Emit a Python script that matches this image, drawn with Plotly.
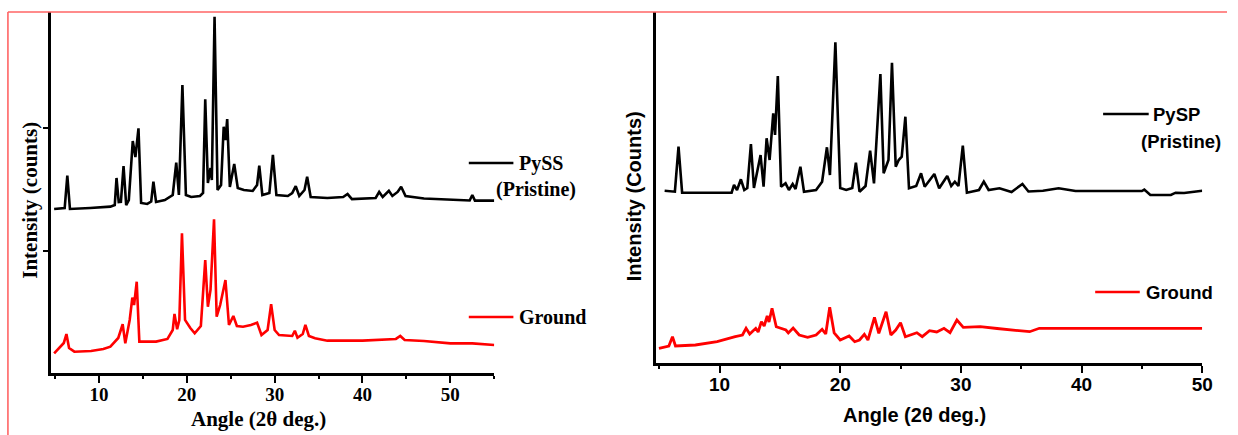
import plotly.graph_objects as go

W, H = 1238, 435

# ---------------- data ----------------
pyss_angle = [4.9, 6.1, 6.4, 6.7, 9.0, 11.3, 11.8, 12.0, 12.25, 12.5, 12.8, 13.1, 13.4, 13.85, 14.15, 14.5,
              14.8, 15.5, 15.95, 16.2, 16.5, 17.5, 18.4, 18.8, 19.1, 19.5, 19.9, 20.5, 21.5, 21.85, 22.1,
              22.4, 22.7, 22.85, 23.16, 23.5, 23.9, 24.2, 24.4, 24.6, 24.9, 25.4, 25.8, 26.5, 27.5, 28.0,
              28.25, 28.6, 29.4, 29.8, 30.2, 31.5, 32.0, 32.4, 32.8, 33.4, 33.7, 34.1, 36.0, 37.8, 38.3,
              38.8, 41.5, 41.9, 42.3, 43.0, 43.4, 44.0, 44.4, 44.9, 47.0, 50.8, 52.2, 52.5, 52.8, 55.0]
pyss_pristine = [1339, 1347, 1611, 1339, 1347, 1358, 1371, 1592, 1396, 1398, 1690, 1371, 1412, 1894, 1763, 1997,
                 1388, 1380, 1400, 1562, 1396, 1412, 1453, 1717, 1453, 2351, 1453, 1437, 1445, 1469, 2234,
                 1551, 1673, 1575, 2908, 1494, 1535, 2010, 1902, 2073, 1518, 1706, 1510, 1494, 1486, 1535,
                 1692, 1453, 1469, 1780, 1453, 1445, 1469, 1526, 1445, 1494, 1602, 1437, 1429, 1437, 1461,
                 1420, 1429, 1478, 1437, 1488, 1445, 1478, 1521, 1445, 1424, 1412, 1408, 1453, 1407, 1407]

pyss_g_angle = [4.9, 5.5, 6.0, 6.3, 6.6, 7.2, 9.1, 10.5, 11.3, 12.2, 12.7, 13.0, 13.5, 13.8, 14.0, 14.3, 14.6,
                16.5, 17.8, 18.4, 18.6, 18.9, 19.15, 19.45, 19.8, 20.4, 20.9, 21.6, 22.1, 22.4, 22.7, 23.1,
                23.4, 23.8, 24.4, 24.8, 25.3, 25.7, 26.4, 27.3, 28.0, 28.5, 29.2, 29.6, 30.0, 30.5, 32.0,
                32.3, 32.6, 33.2, 33.5, 33.9, 34.6, 36.0, 40.0, 43.8, 44.3, 44.8, 47.0, 50.0, 52.5, 55.0]
pyss_ground = [161, 204, 245, 318, 204, 174, 180, 196, 215, 286, 398, 242, 433, 615, 555, 745, 256,
               256, 278, 351, 482, 357, 433, 1140, 433, 367, 324, 384, 922, 541, 678, 1255,
               460, 555, 759, 392, 465, 384, 378, 392, 411, 310, 351, 561, 351, 310, 302,
               345, 288, 318, 392, 302, 283, 264, 264, 278, 302, 269, 261, 242, 242, 229]

pysp_angle = [5.45, 6.3, 6.6, 6.9, 11.0, 11.2, 11.45, 11.77, 12.05, 12.3, 12.6, 12.85, 13.4, 13.65, 13.9,
              14.15, 14.45, 14.6, 14.83, 15.1, 15.47, 15.75, 16.06, 16.3, 16.7, 17.0, 18.0, 18.5, 18.9,
              19.15, 19.6, 20.0, 20.5, 21.0, 21.3, 21.6, 22.1, 22.48, 22.8, 23.33, 23.6, 24.0, 24.29,
              24.6, 24.85, 25.1, 25.4, 25.7, 26.3, 26.7, 27.0, 27.8, 28.2, 28.87, 29.2, 29.5, 29.8,
              30.16, 30.5, 31.5, 31.9, 32.3, 33.2, 34.2, 35.1, 35.6, 36.8, 38.1, 39.5, 42.0, 45.0,
              45.2, 45.7, 47.4, 47.8, 48.5, 50.0]
pysp_pristine = [1726, 1716, 2166, 1706, 1706, 1783, 1733, 1840, 1733, 1753, 2193, 1753, 2083, 1766, 2250,
                 2033, 2500, 2283, 2873, 1766, 1800, 1733, 1793, 1743, 1966, 1716, 1733, 1816, 2160,
                 1883, 3210, 1753, 1733, 1753, 2006, 1716, 1773, 2126, 1800, 2893, 1900, 2033, 3006,
                 1966, 2033, 2066, 2466, 1750, 1773, 1900, 1766, 1893, 1750, 1873, 1773, 1816, 1773,
                 2176, 1706, 1733, 1816, 1733, 1750, 1713, 1793, 1718, 1726, 1750, 1723, 1723, 1723,
                 1738, 1683, 1683, 1706, 1703, 1726]

pysp_g_angle = [4.98, 5.8, 6.1, 6.35, 8.0, 9.8, 11.3, 11.9, 12.2, 12.5, 13.0, 13.2, 13.47, 13.7, 13.95, 14.1,
                14.35, 14.7, 15.5, 15.7, 16.1, 16.6, 17.3, 18.0, 18.5, 18.8, 19.13, 19.5, 20.0, 20.74,
                21.2, 21.6, 22.0, 22.3, 22.84, 23.2, 23.8, 24.2, 24.6, 25.0, 25.4, 26.35, 26.8, 27.4,
                28.0, 28.6, 29.1, 29.67, 30.2, 31.6, 33.0, 35.7, 36.5, 50.0]
pysp_ground = [150, 173, 266, 173, 183, 216, 266, 283, 350, 293, 350, 313, 416, 373, 473, 413,
               550, 366, 333, 303, 353, 283, 260, 283, 340, 293, 560, 303, 233, 273,
               216, 233, 290, 233, 460, 300, 516, 283, 333, 406, 266, 306, 266, 326,
               313, 350, 306, 433, 360, 366, 348, 316, 350, 350]

x_ticks_left = [10, 20, 30, 40, 50]
x_ticks_right = [10, 20, 30, 40, 50]

# ---------------- helpers (pixel -> paper) ----------------
def px(x):
    return x / W

def py(y):
    return 1 - y / H

SERIF = "Liberation Serif"
SANS = "Liberation Sans"

fig = go.Figure()
fig.add_trace(go.Scatter(x=pyss_angle, y=pyss_pristine, mode="lines",
                         line=dict(color="black", width=2.6), xaxis="x", yaxis="y", showlegend=False))
fig.add_trace(go.Scatter(x=pyss_g_angle, y=pyss_ground, mode="lines",
                         line=dict(color="#ff0000", width=2.6), xaxis="x", yaxis="y", showlegend=False))
fig.add_trace(go.Scatter(x=pysp_angle, y=pysp_pristine, mode="lines",
                         line=dict(color="black", width=2.6), xaxis="x2", yaxis="y2", showlegend=False))
fig.add_trace(go.Scatter(x=pysp_g_angle, y=pysp_ground, mode="lines",
                         line=dict(color="#ff0000", width=2.8), xaxis="x2", yaxis="y2", showlegend=False))

def xax(domain, rng, ticks, family, anchor):
    return dict(domain=domain, range=rng, anchor=anchor, showline=True, linecolor="black", linewidth=2.5,
                ticks="outside", ticklen=7, tickwidth=2, tickcolor="black", tickvals=ticks,
                ticklabelstandoff=-5,
                minor=dict(ticks="outside", ticklen=3, tickwidth=2, tickcolor="black", dtick=5, tick0=0),
                tickfont=dict(family=family, size=19, color="black", weight="bold"),
                showgrid=False, zeroline=False, fixedrange=True)

fig.update_layout(
    width=W, height=H, margin=dict(l=0, r=0, t=0, b=0, pad=0),
    paper_bgcolor="white", plot_bgcolor="white",
    xaxis=xax([px(51.7), px(498.7)], [4.57, 55], x_ticks_left, SERIF, "y"),
    yaxis=dict(domain=[py(373), py(12)], range=[0, 2947], anchor="x", showline=True, linecolor="black",
               linewidth=2.5, ticks="outside", ticklen=5, tickwidth=2, tickcolor="black",
               tickvals=[1000, 2000], showticklabels=False, showgrid=False, zeroline=False),
    xaxis2=xax([px(661.7), px(1213)], [4.72, 50], x_ticks_right, SANS, "y2"),
    yaxis2=dict(domain=[py(363.3), py(12)], range=[0, 3513], anchor="x2", showline=True, linecolor="black",
                linewidth=2.5, ticks="", showticklabels=False, showgrid=False, zeroline=False),
)

ann = []
def text(x, y, s, family, size, xanchor="center", angle=0):
    ann.append(dict(x=px(x), y=py(y), xref="paper", yref="paper", text=s, showarrow=False,
                    xanchor=xanchor, yanchor="middle", textangle=angle,
                    font=dict(family=family, size=size, color="black", weight="bold")))

# axis titles
text(260.5, 419, "Angle (2θ deg.)", SERIF, 21)
text(30, 200, "Intensity (counts)", SERIF, 21, angle=-90)
text(922.5, 415, "Angle (2θ deg.)", SANS, 20)
text(640, 196, "Intensity (Counts)", SANS, 20, angle=-90)

# legend texts
text(522, 163, "PySS", SERIF, 20, xanchor="left")
text(541, 189, "(Pristine)", SERIF, 20)
text(522, 317, "Ground", SERIF, 20, xanchor="left")
text(1161, 114, "PySP", SANS, 18.5, xanchor="left")
text(1192, 141, "(Pristine)", SANS, 18.5)
text(1154, 292, "Ground", SANS, 18.5, xanchor="left")
fig.update_layout(annotations=ann)

shapes = []
def seg(x0, y0, x1, y1, color, width):
    shapes.append(dict(type="line", xref="paper", yref="paper", x0=px(x0), y0=py(y0), x1=px(x1), y1=py(y1),
                       line=dict(color=color, width=width)))

# legend sample lines
seg(473, 163, 518, 163, "black", 2.5)
seg(473, 317, 518, 317, "#ff0000", 2.5)
seg(1113, 114, 1159, 114, "black", 2.5)
seg(1105, 292, 1150, 292, "#ff0000", 2.5)
# red frame of the figure
seg(8, 12, W, 12, "#ff6464", 1.6)
seg(8, 12, 8, H, "#ff6464", 1.6)
fig.update_layout(shapes=shapes)

fig.write_html("out.html")
